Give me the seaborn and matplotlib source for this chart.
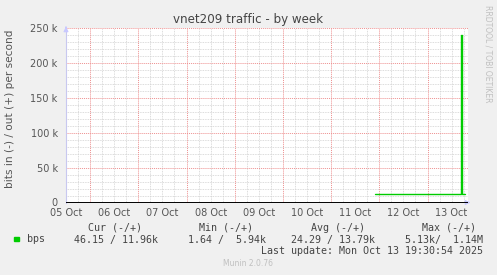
import matplotlib
matplotlib.use("Agg")
import matplotlib.pyplot as plt
import seaborn as sns
import numpy as np
import pandas as pd
from matplotlib.ticker import FixedLocator, FuncFormatter

# ---- data (days since 05 Oct 00:00, bits/s) ----
out_days = [6.91, 6.99, 7.07, 7.16, 7.24, 7.32, 7.41, 7.49, 7.57, 7.66, 7.74,
            7.82, 7.91, 7.99, 8.07, 8.16, 8.24, 8.32, 8.41, 8.49, 8.57, 8.66,
            8.685, 8.69, 8.71, 8.715, 8.74, 8.78]
out_bps = [11900, 12200, 11700, 12100, 11800, 12200, 11700, 12100, 11800, 12200, 11700,
           12100, 11800, 12200, 11700, 12100, 11800, 12200, 11700, 12100, 11800, 12000,
           12000, 240000, 240000, 12000, 11960, 11960]
tick_labels = ["05 Oct", "06 Oct", "07 Oct", "08 Oct", "09 Oct", "10 Oct",
               "11 Oct", "12 Oct", "13 Oct"]
tick_pos = [0.5 + i for i in range(len(tick_labels))]
y_ticks = [0, 50000, 100000, 150000, 200000, 250000]

legend_headers = ["Cur (-/+)", "Min (-/+)", "Avg (-/+)", "Max (-/+)"]
legend_values = ["46.15 / 11.96k", "1.64 /  5.94k", "24.29 / 13.79k", "5.13k/  1.14M"]
series_name = "bps"
last_update = "Last update: Mon Oct 13 19:30:54 2025"

df = pd.DataFrame({"day": out_days, "bps": out_bps})

sns.set_theme(style="white")
plt.rcParams['font.family'] = ['DejaVu Sans']

W, H = 497, 275
fig = plt.figure(figsize=(W / 100, H / 100), dpi=100, facecolor="#F0F0F0")
ax = fig.add_axes([66 / W, 1 - 202.5 / H, (468 - 66) / W, (202.5 - 28) / H])
ax.set_facecolor("white")

xmin, xmax = 0.499, 8.84
ax.set_xlim(xmin, xmax)
ax.set_ylim(0, 250000)

# grids
for d in np.arange(0.75, xmax, 0.25):
    if abs(d - round(d)) > 1e-6:
        ax.axvline(d, color="#d0d0d0", lw=0.6, ls=(0, (1, 1)), zorder=0)
for v in range(10000, 250001, 10000):
    if v % 50000:
        ax.axhline(v, color="#d0d0d0", lw=0.6, ls=(0, (1, 1)), zorder=0)
for d in range(1, 9):
    ax.axvline(d, color="#ee9090", lw=0.7, ls=(0, (1, 1)), zorder=1)
for v in y_ticks[1:]:
    ax.axhline(v, color="#ee9090", lw=0.7, ls=(0, (1, 1)), zorder=1)

sns.lineplot(data=df, x="day", y="bps", ax=ax, color="#00cc00", lw=1.0,
             drawstyle="steps-post", zorder=3, legend=False)
ax.axhline(0, color="black", lw=1.4, zorder=4)

for s in ["top", "right", "bottom"]:
    ax.spines[s].set_visible(False)
ax.spines["left"].set_color("#c8c8f0")
ax.spines["left"].set_linewidth(0.8)

ax.xaxis.set_major_locator(FixedLocator(tick_pos))
ax.set_xticklabels(tick_labels)
ax.yaxis.set_major_locator(FixedLocator(y_ticks))
ax.yaxis.set_major_formatter(FuncFormatter(lambda v, p: "0" if v == 0 else f"{int(v/1000)} k"))
ax.tick_params(axis="both", length=0, labelsize=7, colors="#555555")
ax.tick_params(axis="x", pad=4)
ax.tick_params(axis="y", pad=6)
ax.set_xlabel("")
ax.set_ylabel("bits in (-) / out (+) per second", fontsize=7.6, color="#555555")
ax.yaxis.set_label_coords((15 - 66) / 402, 0.536)

# arrows
ax.annotate("", xy=(xmax + 0.05, 0), xytext=(xmax - 0.05, 0),
            xycoords="data", annotation_clip=False,
            arrowprops=dict(arrowstyle="-|>", color="#c8c8ff", lw=0.8, mutation_scale=7))
ax.annotate("", xy=(xmin, 256000), xytext=(xmin, 247000),
            xycoords="data", annotation_clip=False,
            arrowprops=dict(arrowstyle="-|>", color="#c8c8ff", lw=0.8, mutation_scale=7))

def ft(x, y, s, **kw):
    fig.text(x / W, 1 - y / H, s, **kw)

ft(248, 19, "vnet209 traffic - by week", ha="center", va="center", fontsize=8.6, color="#444444")
ft(488, 54, "RRDTOOL / TOBI OETIKER", ha="center", va="center", rotation=270,
   fontsize=5.5, color="#c0c0c0")

mono = dict(family="DejaVu Sans Mono", fontsize=7.2, color="#444444", va="center")
hdr_right = [142, 253, 365, 476]
val_right = [158, 266, 375, 483]
for h, x in zip(legend_headers, hdr_right):
    ft(x, 228, h, ha="right", **mono)
for v, x in zip(legend_values, val_right):
    ft(x, 239.5, v, ha="right", **mono)
ft(27, 239.5, series_name, ha="left", **mono)
fig.patches.append(plt.Rectangle((14 / W, 1 - 241 / H), 4.5 / W, 4.5 / H,
                                 transform=fig.transFigure, color="#00cc00"))
ft(483, 251.5, last_update, ha="right", **mono)
ft(248, 264, "Munin 2.0.76", ha="center", va="center", fontsize=5.5, color="#c0c0c0")

fig.savefig("out.png", dpi=100, facecolor=fig.get_facecolor())
